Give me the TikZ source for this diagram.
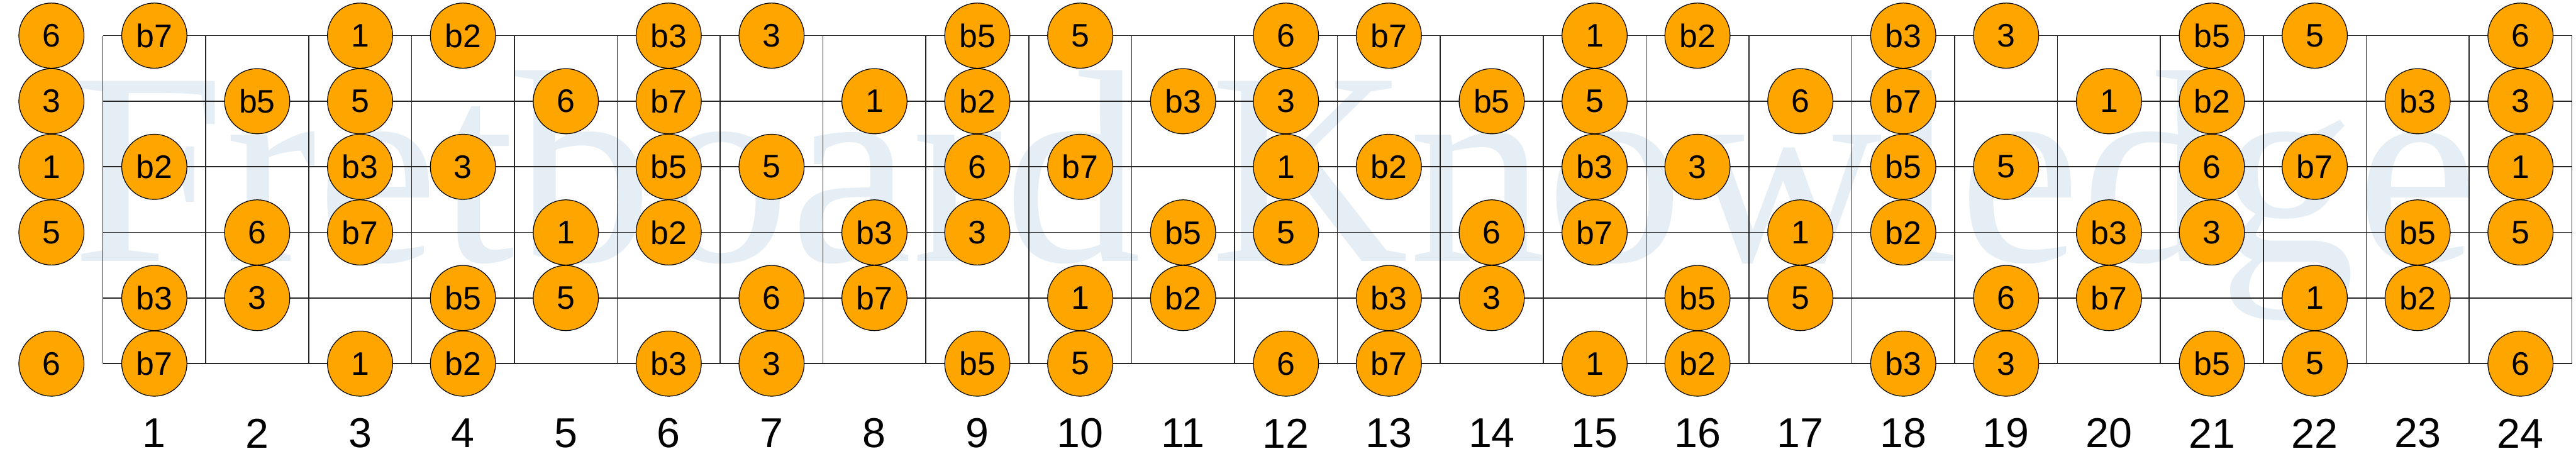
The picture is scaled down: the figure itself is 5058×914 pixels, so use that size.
\documentclass[tikz,border=0pt]{standalone}
\usepackage{fontspec}
\setmainfont{Liberation Sans}
\newfontfamily\wmfont{Liberation Serif}
\definecolor{notefill}{HTML}{FFA500}
\definecolor{wmcol}{HTML}{E5EEF5}
\def\rowE{6,b7,-,1,b2,-,b3,3,-,b5,5,-,6,b7,-,1,b2,-,b3,3,-,b5,5,-,6}
\def\rowB{3,-,b5,5,-,6,b7,-,1,b2,-,b3,3,-,b5,5,-,6,b7,-,1,b2,-,b3,3}
\def\rowG{1,b2,-,b3,3,-,b5,5,-,6,b7,-,1,b2,-,b3,3,-,b5,5,-,6,b7,-,1}
\def\rowD{5,-,6,b7,-,1,b2,-,b3,3,-,b5,5,-,6,b7,-,1,b2,-,b3,3,-,b5,5}
\def\rowA{-,b3,3,-,b5,5,-,6,b7,-,1,b2,-,b3,3,-,b5,5,-,6,b7,-,1,b2,-}
\def\skipmark{-}
\begin{document}
\begin{tikzpicture}[x=0.2pt,y=-0.2pt,
  note/.style={circle,draw=black,line width=0.3pt,fill=notefill,minimum size=25.6pt,inner sep=0pt,font=\fontsize{12.8}{14}\selectfont},
  fretnum/.style={font=\fontsize{16.4}{18}\selectfont,inner sep=0pt},
  gridline/.style={line width=0.4pt,draw=black!85},
  watermark/.style={anchor=base west,text=wmcol,inner sep=0pt,font=\wmfont\fontsize{108}{110}\selectfont}]
\useasboundingbox (0,0) rectangle (5058,914);
\node[watermark] (wm) at (141,513) {Fretboard Knowledge};
\foreach \k in {0,...,24} \draw[gridline] (202+202*\k,70) -- (202+202*\k,714);
\foreach \s in {0,...,5} \draw[gridline] (202,70+128.8*\s) -- (5050,70+128.8*\s);
\foreach \k in {1,...,24} \node[fretnum] (f\k) at (101+202*\k,851) {\k};
\foreach \rn [count=\s from 0] in {E,B,G,D,A,E} {
  \edef\curlist{\csname row\rn\endcsname}
  \foreach \lab [count=\c from 0] in \curlist {
    \ifx\lab\skipmark\else
      \node[note] (n\s-\c) at (101+202*\c,70+128.8*\s) {\lab};
    \fi
  }
}
\end{tikzpicture}
\end{document}
